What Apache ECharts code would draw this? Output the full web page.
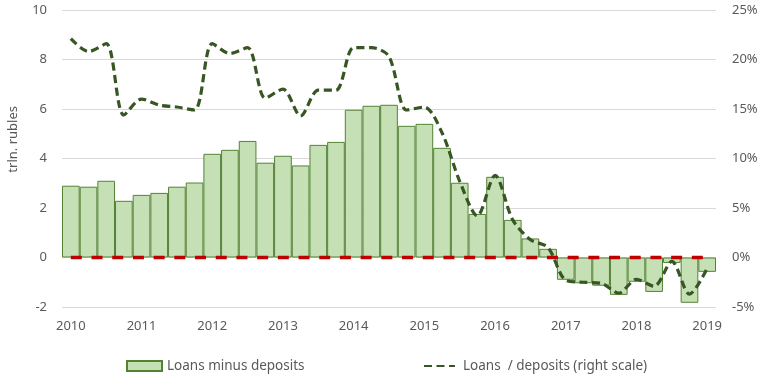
<!DOCTYPE html>
<html>
<head>
<meta charset="utf-8">
<script src="https://cdn.jsdelivr.net/npm/echarts@6/dist/echarts.min.js"></script>
<style>html,body{margin:0;padding:0;background:#fff;}#c{width:763px;height:383px;}</style>
</head>
<body>
<div id="c"></div>
<script>
var years = ['2010','2011','2012','2013','2014','2015','2016','2017','2018','2019'];
var quarters = [];
for (var y = 0; y < years.length; y++) {
  for (var q = 1; q <= 4; q++) {
    if (quarters.length < 37) quarters.push(years[y] + ' Q' + q);
  }
}
var loansMinusDeposits = [2.90,2.86,3.10,2.29,2.53,2.61,2.86,3.03,4.19,4.35,4.71,3.83,4.11,3.72,4.55,4.67,5.97,6.13,6.17,5.32,5.40,4.43,3.02,1.76,3.26,1.52,0.77,0.35,-0.90,-1.04,-1.14,-1.51,-0.98,-1.39,-0.22,-1.83,-0.58];
var loansToDeposits = [22.1,20.8,21.6,14.4,16.0,15.4,15.2,14.9,21.6,20.6,21.2,16.1,17.0,14.3,16.9,16.9,21.2,21.2,20.3,14.9,15.2,12.6,7.7,4.2,8.3,3.8,1.8,1.0,-2.3,-2.5,-2.6,-3.6,-2.2,-2.9,-0.4,-3.7,-1.1];
var zeroLine = quarters.map(function(){ return 0; });

var FONT = 'Noto Sans';
var TXT = '#595959';
var chart = echarts.init(document.getElementById('c'), null, {renderer:'canvas'});
chart.setOption({
  animation: false,
  textStyle: {fontFamily: FONT},
  grid: {left: 62, right: 47, top: 10, bottom: 76, containLabel: false},
  xAxis: {
    type: 'category', data: quarters, boundaryGap: true,
    axisLine: {show: false}, axisTick: {show: false},
    axisLabel: {interval: 3, color: TXT, fontSize: 13, fontFamily: FONT, margin: 13,
      formatter: function(v){ return v.slice(0,4); }}
  },
  yAxis: [
    {type: 'value', min: -2, max: 10, interval: 2,
     axisLine: {show: false}, axisTick: {show: false},
     axisLabel: {color: TXT, fontSize: 13, fontFamily: FONT, margin: 15},
     splitLine: {lineStyle: {color: '#d9d9d9', width: 1}}},
    {type: 'value', min: -5, max: 25, interval: 5,
     axisLine: {show: false}, axisTick: {show: false},
     axisLabel: {color: TXT, fontSize: 13, fontFamily: FONT, margin: 16, formatter: '{value}%'},
     splitLine: {show: false}}
  ],
  graphic: [{
    type: 'text', left: 7, top: 106, rotation: Math.PI/2,
    style: {text: 'trln. rubles', fill: TXT, font: '13px "Noto Sans"'}
  }],
  legend: [
    {data: ['Loans minus deposits'], left: 121, top: 354, itemWidth: 35, itemHeight: 10, icon: 'rect',
     textStyle: {color: TXT, fontSize: 13.5, fontFamily: FONT}},
    {data: [{name: 'Loans  / deposits (right scale)', itemStyle: {opacity: 0}}], left: 418, top: 354, itemWidth: 31, itemHeight: 10,
     textStyle: {color: TXT, fontSize: 13.5, fontFamily: FONT, padding: [0,0,0,3]}}
  ],
  series: [
    {name: 'Loans minus deposits', type: 'bar', data: loansMinusDeposits, barCategoryGap: '0%',
     itemStyle: {color: '#c5e0b4', borderColor: '#548235', borderWidth: 1}},
    {name: 'zero', type: 'line', data: zeroLine, symbol: 'none', silent: true,
     lineStyle: {color: '#c00000', width: 3.3, type: [11, 9.7]}},
    {name: 'Loans  / deposits (right scale)', type: 'line', yAxisIndex: 1, data: loansToDeposits,
     symbol: 'none', smooth: 0.3, itemStyle: {color: '#375623'},
     lineStyle: {color: '#375623', width: 3.2, type: [8, 4.5]}}
  ]
});
</script>
</body>
</html>
